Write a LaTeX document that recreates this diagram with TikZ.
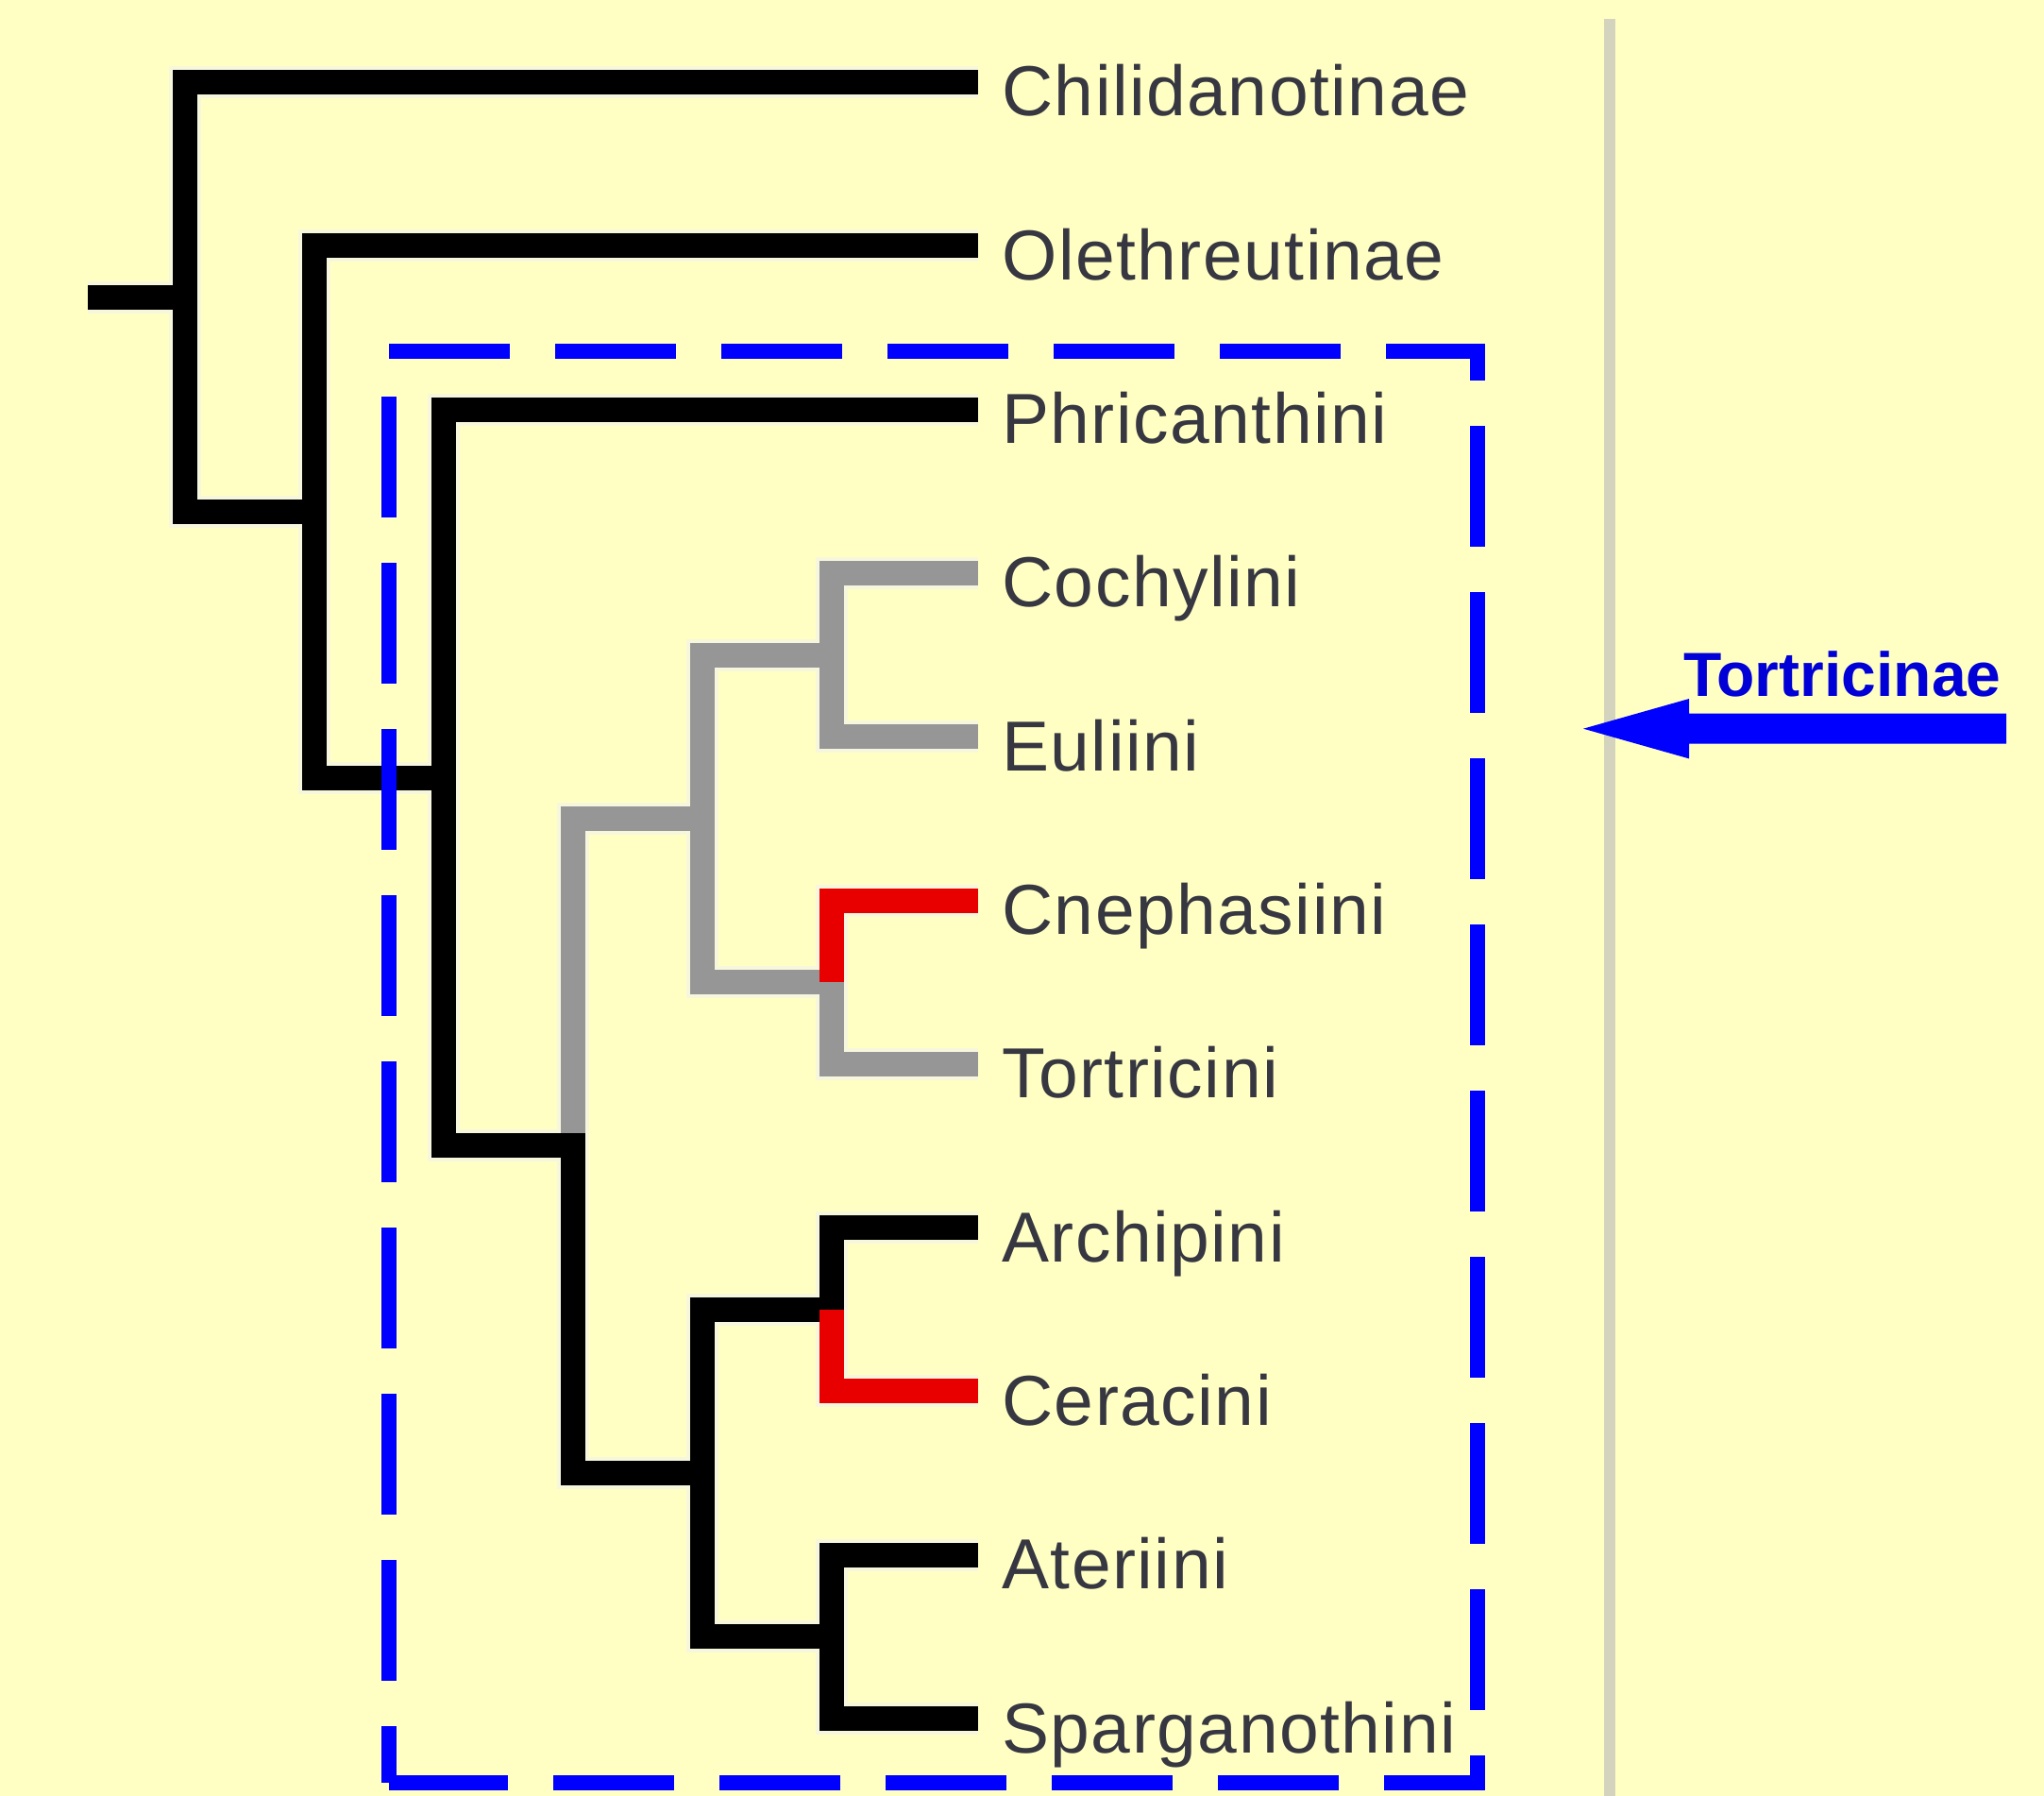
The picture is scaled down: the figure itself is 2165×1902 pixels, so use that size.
\documentclass[tikz,border=0pt]{standalone}
\usepackage{fontspec}
\setmainfont{Liberation Sans}
\newfontfamily\leaffont[LetterSpace=2]{Liberation Sans}
\usetikzlibrary{calc}
\definecolor{bgc}{RGB}{255,255,196}
\definecolor{grayb}{RGB}{150,150,150}
\definecolor{redb}{RGB}{232,0,0}
\definecolor{haloc}{RGB}{247,247,222}
\definecolor{labc}{RGB}{55,55,66}
\definecolor{boxblue}{RGB}{0,0,255}
\definecolor{txtblue}{RGB}{0,0,215}
\definecolor{sepc}{RGB}{212,212,190}

\newcommand\treepaths{%
  % gray clade
  \draw[gy] (nD) |- (nE);
  \draw[gy] (nE) |- (nF);
  \draw[gy] (nE) |- (nG);
  \draw[gy] (nF) |- (t4);
  \draw[gy] (nF) |- (t5);
  \draw[gy] (nG) |- (t7);
  \draw[rd] (nG) |- (t6);
  % black backbone
  \draw[bk] (root) -- (nA);
  \draw[bk] (nA) |- (t1);
  \draw[bk] (nA) |- (nB);
  \draw[bk] (nB) |- (t2);
  \draw[bk] (nB) |- (nC);
  \draw[bk] (nC) |- (t3);
  \draw[bk] (nC) |- (nD);
  \draw[bk] ($(nD)+(0,-13)$) |- (nH);
  \draw[bk] (nH) |- (nI);
  \draw[bk] (nH) |- (nJ);
  \draw[rd] (nI) |- (t9);
  \draw[bk] (nI) |- (t8);
  \draw[bk] (nJ) |- (t10);
  \draw[bk] (nJ) |- (t11);
}

\begin{document}
\begin{tikzpicture}[x=1pt,y=-1pt,
  branch/.style={line width=26pt, line cap=butt, line join=miter},
  halobranch/.style={line width=34pt, line cap=butt, line join=miter, draw=haloc},
  leaf/.style={anchor=base west, inner sep=0pt, text=labc,
    font=\leaffont\fontsize{75pt}{90pt}\selectfont},
  boxdash/.style={draw=boxblue, line width=16pt, line cap=butt, line join=miter,
    dash pattern=on 128pt off 48pt},
  sepline/.style={draw=sepc, line width=12pt},
  cladelabel/.style={anchor=base west, inner sep=0pt, text=txtblue,
    font=\bfseries\fontsize{66pt}{80pt}\selectfont}]

\fill[bgc] (0,0) rectangle (2165,1902);
\useasboundingbox (0,0) rectangle (2165,1902);

% separator
\coordinate (sepTop) at (1705,20);
\coordinate (sepBot) at (1705,1902);
\draw[sepline] (sepTop) -- (sepBot);

% tips
\coordinate (t1)  at (1036,87);
\coordinate (t2)  at (1036,260.3);
\coordinate (t3)  at (1036,433.6);
\coordinate (t4)  at (1036,606.9);
\coordinate (t5)  at (1036,780.2);
\coordinate (t6)  at (1036,953.5);
\coordinate (t7)  at (1036,1126.8);
\coordinate (t8)  at (1036,1300.1);
\coordinate (t9)  at (1036,1473.4);
\coordinate (t10) at (1036,1646.7);
\coordinate (t11) at (1036,1820);

% internal nodes
\coordinate (root) at (93,314.5);
\coordinate (nA) at (196,314.5);
\coordinate (nB) at (333,541.9);
\coordinate (nC) at (470,823.5);
\coordinate (nD) at (607,1213.45);
\coordinate (nE) at (744,866.85);
\coordinate (nF) at (881,693.55);
\coordinate (nG) at (881,1040.15);
\coordinate (nH) at (744,1560.05);
\coordinate (nI) at (881,1386.75);
\coordinate (nJ) at (881,1733.35);

% halo pass
\begin{scope}[bk/.style={halobranch}, gy/.style={halobranch}, rd/.style={halobranch}]
  \treepaths
\end{scope}
% colour pass
\begin{scope}[bk/.style={branch, draw=black}, gy/.style={branch, draw=grayb}, rd/.style={branch, draw=redb}]
  \treepaths
\end{scope}

% labels
\node[leaf] (l1)  at (1061,123)    {Chilidanotinae};
\node[leaf] (l2)  at (1061,296.3)  {Olethreutinae};
\node[leaf] (l3)  at (1061,469.6)  {Phricanthini};
\node[leaf] (l4)  at (1061,642.9)  {Cochylini};
\node[leaf] (l5)  at (1061,816.2)  {Euliini};
\node[leaf] (l6)  at (1061,989.5)  {Cnephasiini};
\node[leaf] (l7)  at (1061,1162.8) {Tortricini};
\node[leaf] (l8)  at (1061,1336.1) {Archipini};
\node[leaf] (l9)  at (1061,1509.4) {Ceracini};
\node[leaf] (l10) at (1061,1682.7) {Ateriini};
\node[leaf] (l11) at (1061,1856)   {Sparganothini};

% dashed box
\coordinate (boxTL) at (412,372);
\coordinate (boxBR) at (1565,1888);
\draw[boxdash] (boxTL) -- (boxTL -| boxBR) -- (boxBR) -- (boxBR -| boxTL);
\draw[boxdash, dash phase=128pt] (boxTL) -- (boxBR -| boxTL);

% clade label and arrow
\node[cladelabel] (tlab) at (1783,737) {Tortricinae};
\coordinate (arrTip) at (1677,771.7);
\coordinate (arrTail) at (2125,771.7);
\fill[boxblue] (arrTip) -- ($(arrTip)+(112,-31.7)$) -- ($(arrTip)+(112,-16)$)
  -- ($(arrTail)+(0,-16)$) -- ($(arrTail)+(0,16)$) -- ($(arrTip)+(112,16)$)
  -- ($(arrTip)+(112,31.7)$) -- cycle;
\end{tikzpicture}
\end{document}
